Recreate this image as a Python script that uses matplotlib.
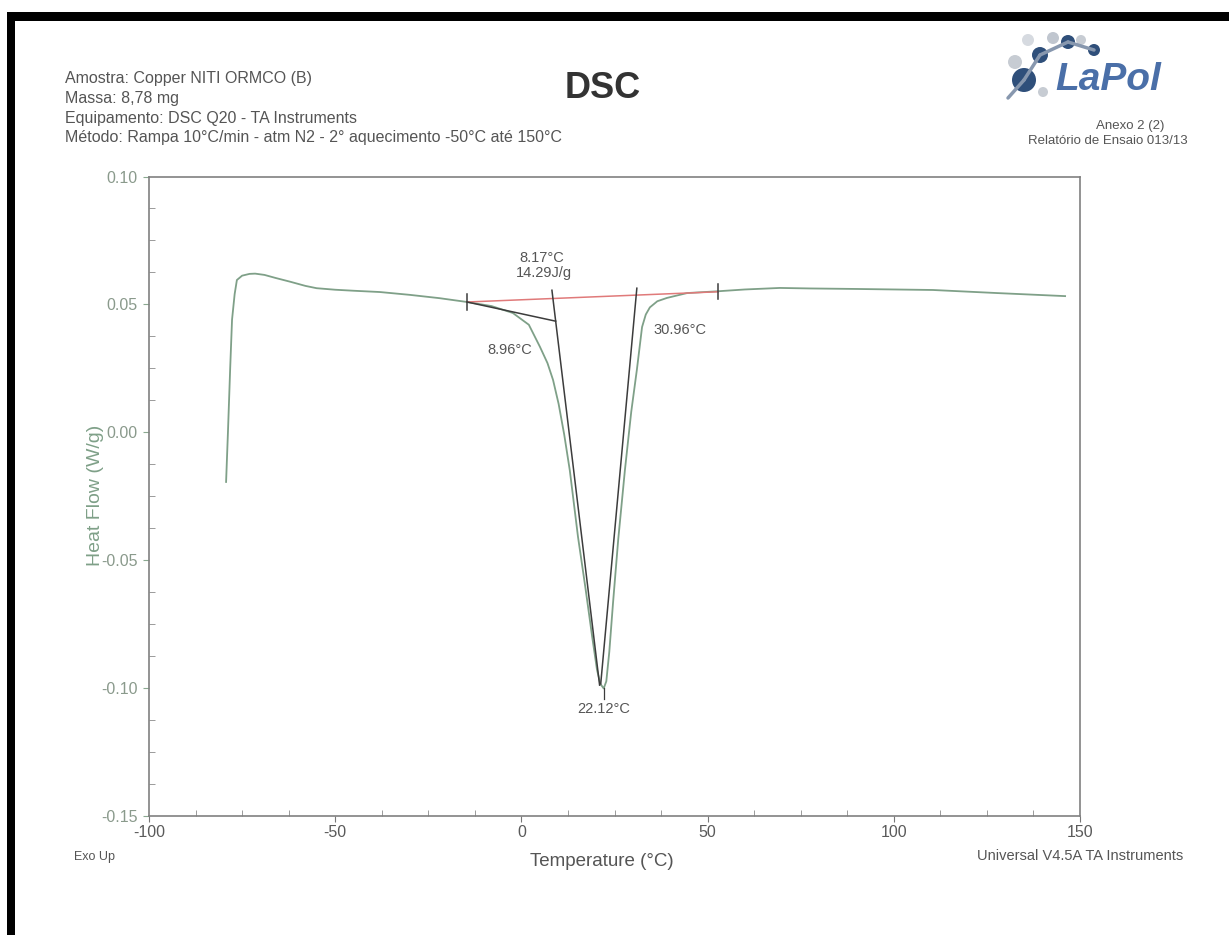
import numpy as np
import matplotlib
matplotlib.use("Agg")
import matplotlib.pyplot as plt
from matplotlib.patches import Rectangle, Circle

plt.rcParams['font.family'] = ['Liberation Sans', 'DejaVu Sans']

# ---- data --------------------------------------------------------
temp = [-79.3, -78.8, -78.2, -77.7, -77.0, -76.4, -75.0, -73.0, -71.5, -69.0,
        -66.0, -62.0, -58.0, -55.0, -50.0, -45.0, -38.0, -30.0, -22.0, -14.6,
        -8.0, -2.3, 2.0, 5.0, 7.0, 8.5, 10.0, 11.5, 13.0, 15.2,
        17.2, 19.0, 20.3, 21.2, 22.1, 22.8, 23.6, 24.6, 26.0, 27.8,
        29.5, 31.0, 32.4, 33.4, 34.5, 36.5, 39.1, 44.5, 52.8, 60.0,
        69.4, 77.5, 90.0, 110.5, 127.7, 146.0]
heat = [-0.0195, 0.000, 0.025, 0.044, 0.054, 0.0595, 0.0612, 0.0619, 0.0620, 0.0615,
        0.0603, 0.0588, 0.0572, 0.0563, 0.0557, 0.0553, 0.0548, 0.0537, 0.0524, 0.0509,
        0.0493, 0.0466, 0.0420, 0.0333, 0.0270, 0.0204, 0.0110, -0.0010, -0.0150, -0.0410,
        -0.0610, -0.0800, -0.0930, -0.0985, -0.1003, -0.0975, -0.0860, -0.0669, -0.0420, -0.0148,
        0.0080, 0.0243, 0.0411, 0.0460, 0.0488, 0.0512, 0.0525, 0.0544, 0.0551, 0.0558,
        0.0564, 0.0562, 0.0560, 0.0556, 0.0544, 0.0532]

# integration baseline and tangents
base_t = [-14.6, 52.8]
base_h = [0.0509, 0.0549]
onset_t = [-14.6, 9.2]
onset_h = [0.0509, 0.0434]
left_tan_t = [8.2, 21.0]
left_tan_h = [0.0555, -0.0990]
right_tan_t = [31.0, 21.3]
right_tan_h = [0.0563, -0.0985]

xticks = [-100, -50, 0, 50, 100, 150]
yticks = [-0.15, -0.10, -0.05, 0.00, 0.05, 0.10]

header = ["Amostra: Copper NITI ORMCO (B)",
          "Massa: 8,78 mg",
          "Equipamento: DSC Q20 - TA Instruments",
          "Método: Rampa 10°C/min - atm N2 - 2° aquecimento -50°C até 150°C"]

W, H = 1229, 935
fig = plt.figure(figsize=(W / 100, H / 100), dpi=100)

def fx(px):
    return px / W

def fy(py):
    return 1 - py / H

# black scan border
fig.add_artist(Rectangle((fx(7), fy(21)), 1 - fx(7), fy(12) - fy(21),
                         transform=fig.transFigure, color='black', lw=0))
fig.add_artist(Rectangle((fx(7), 0), fx(8), fy(12),
                         transform=fig.transFigure, color='black', lw=0))

# ---- main axes ----------------------------------------------------
ax = fig.add_axes([fx(149), fy(815.5), fx(1080) - fx(149), fy(176.5) - fy(815.5)])
curve_col = '#7fa088'
dark = '#3c3c3c'
ax.plot(temp, heat, color=curve_col, lw=1.3)
ax.plot(base_t, base_h, color='#e07a7a', lw=1.1)
ax.plot(onset_t, onset_h, color=dark, lw=1.1)
ax.plot(left_tan_t, left_tan_h, color=dark, lw=1.1)
ax.plot(right_tan_t, right_tan_h, color=dark, lw=1.1)
for t, h in zip(base_t, base_h):
    ax.plot([t, t], [h - 0.003, h + 0.003], color=dark, lw=1.1)
ax.plot([22.1, 22.1], [-0.1003, -0.1045], color=dark, lw=0.9)

ax.set_xlim(-100, 150)
ax.set_ylim(-0.15, 0.10)
ax.set_xticks(xticks)
ax.set_xticklabels([str(v) for v in xticks])
ax.set_yticks(yticks)
ax.set_yticklabels(['%.2f' % v for v in yticks])
ax.set_xticks(np.arange(-100, 151, 12.5), minor=True)
ax.set_yticks(np.arange(-0.15, 0.101, 0.0125), minor=True)
ax.tick_params(which='major', direction='out', length=4, color='#8aa890',
               labelsize=11.5)
ax.tick_params(axis='x', which='major', color='#777777', labelcolor='#5a5a5a', pad=3)
ax.tick_params(axis='y', which='major', labelcolor='#8a9a8c', pad=4)
ax.tick_params(which='minor', direction='in', length=4, color='#8a8a8a')
for s in ax.spines.values():
    s.set_color('#808080')
    s.set_linewidth(1.2)

fig.text(fx(96), fy(495), 'Heat Flow (W/g)', color='#7fa088', fontsize=14,
         rotation=90, ha='center', va='center')
fig.text(fx(602), fy(862), 'Temperature (°C)', color='#555555', fontsize=13.5,
         ha='center', va='center')

ann = dict(color='#555555', fontsize=10.5, ha='center', va='center')
ax.text(5.5, 0.0681, '8.17°C', **ann)
ax.text(6.0, 0.0623, '14.29J/g', **ann)
ax.text(-3.0, 0.0322, '8.96°C', **ann)
ax.text(42.6, 0.0400, '30.96°C', **ann)
ax.text(22.0, -0.1085, '22.12°C', **ann)

# ---- header -------------------------------------------------------
for i, line in enumerate(header):
    fig.text(fx(65), fy(79 + i * 19.5), line, fontsize=11.5, color='#555555', va='center')
fig.text(fx(603), fy(88), 'DSC', fontsize=26, fontweight='bold', color='#333333',
         ha='center', va='center')
fig.text(fx(95), fy(857), 'Exo Up', fontsize=9, color='#555555', ha='center', va='center')
fig.text(fx(1080), fy(856), 'Universal V4.5A TA Instruments', fontsize=10.5,
         color='#555555', ha='center', va='center')
fig.text(fx(1130), fy(126), 'Anexo 2 (2)', fontsize=9.5, color='#555555', ha='center', va='center')
fig.text(fx(1108), fy(141), 'Relatório de Ensaio 013/13', fontsize=9.5, color='#555555',
         ha='center', va='center')

# ---- logo ---------------------------------------------------------
lg = fig.add_axes([fx(995), fy(112), fx(185), fy(0) - fy(85)])
lg.set_xlim(995, 1180)
lg.set_ylim(112, 27)
lg.set_aspect('equal')
lg.axis('off')
bonds = [((1024, 80), (1040, 55)), ((1040, 55), (1068, 42)), ((1068, 42), (1094, 50)),
         ((1024, 80), (1008, 98))]
for (x0, y0), (x1, y1) in bonds:
    lg.plot([x0, x1], [y0, y1], color='#8797ae', lw=2.5, solid_capstyle='round')
blobs = [(1015, 62, 7, '#c7ccd3'), (1028, 40, 6, '#d6dae0'), (1040, 55, 8, '#2f4f7a'),
         (1053, 38, 6, '#c0c6cf'), (1068, 42, 7, '#2f4f7a'), (1081, 40, 5, '#c7ccd3'),
         (1094, 50, 6, '#2f4f7a'), (1043, 92, 5, '#c7ccd3'), (1024, 80, 12, '#2f4f7a')]
for x, y, r, c in blobs:
    lg.add_patch(Circle((x, y), r, color=c, lw=0))
lg.text(1108, 80, 'LaPol', fontsize=28, fontweight='bold', style='italic',
        color='#4a6fa8', ha='center', va='center')

fig.savefig('out.png', dpi=100)
